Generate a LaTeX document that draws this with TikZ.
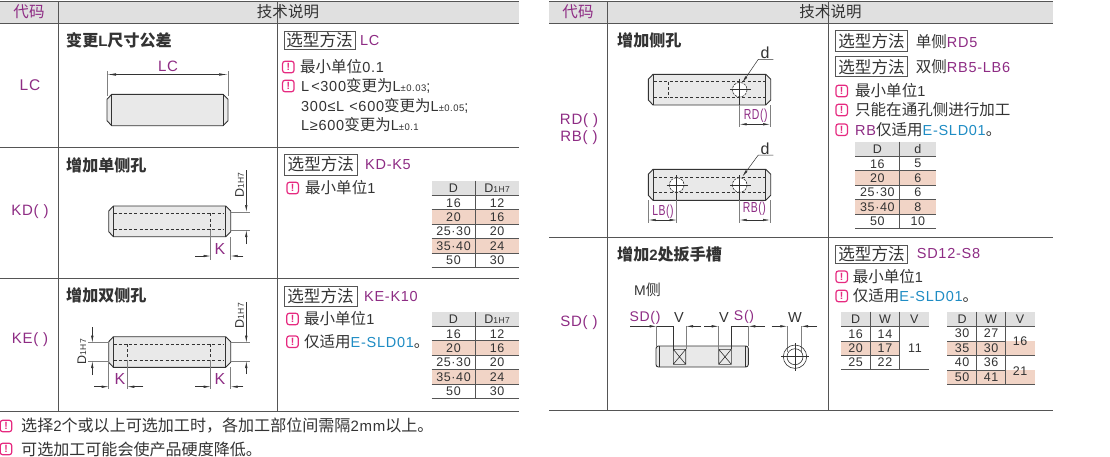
\documentclass[tikz,border=0pt]{standalone}
\usepackage{fontspec}
\usetikzlibrary{arrows.meta}
\setmainfont{Liberation Sans}[LetterSpace=5]
\newfontfamily\cjk{Noto Sans CJK SC}[Scale=1.07]
\newcommand\zh[1]{{\cjk #1}}
\newcommand\fs[1]{\fontsize{#1}{#1}\selectfont}
\definecolor{pur}{HTML}{8E2C84}
\definecolor{blu}{HTML}{1E8CC4}
\definecolor{ink}{HTML}{333333}
\definecolor{rule}{HTML}{555555}
\definecolor{hdr}{HTML}{E0E0E0}
\definecolor{pnk}{HTML}{F1D4C6}
\definecolor{warnc}{HTML}{E62A80}
\definecolor{body}{HTML}{E9E9E9}
\newcounter{nn}
\newcommand\T[4][]{\stepcounter{nn}\node[lbl,#1] (n\thenn) at (#2,#3) {#4};}
\newcommand\W[2]{\stepcounter{nn}\node[warnicon] (n\thenn) at (#1,#2) {!};}
\newcommand\B[4]{\stepcounter{nn}\node[selbox,minimum width=#2-#1,minimum height=#4-#3] (n\thenn) at ({(#1+#2)/2},{(#3+#4)/2}) {\zh{选型方法}};}
\newcommand\smallsub[1]{{\fs{9.5}#1}}
\newcommand\dsub{D{\fs{8.5}1H7}}
% pin outline: x0 x1 y0 y1
\newcommand\pin[4]{%
  \draw[pinline,fill=body] ({#1+4.7},#3) -- ({#2-5},#3) -- (#2,{#3+5}) -- (#2,{#4-5}) -- ({#2-5},#4) -- ({#1+4.7},#4) -- (#1,{#4-5}) -- (#1,{#3+5}) -- cycle;
  \draw[pinline] ({#1+4.7},#3) -- ({#1+4.7},#4) ({#2-5},#3) -- ({#2-5},#4);}
% table D / second column
\newcommand\DTable[7]{% prefix x0 xm x1 ytop head rows
  \fill[hdr] (#2,#5) rectangle (#4,{#5+14.6});
  \foreach \a/\b [count=\i] in {#7}{
    \pgfmathsetmacro\yt{#5+14.6+(\i-1)*14.4}
    \pgfmathsetmacro\yb{\yt+14.4}
    \pgfmathsetmacro\ym{\yt+7.4}
    \ifodd\i\else\fill[pnk] (#2,\yt) rectangle (#4,\yb);\fi
    \node[cellt] (#1a\i) at ({(#2+#3)/2},\ym) {\a};
    \node[cellt] (#1b\i) at ({(#3+#4)/2},\ym) {\b};
    \draw[tline] (#2,\yb) -- (#4,\yb);
  }
  \draw[tline] (#2,{#5+14.6}) -- (#4,{#5+14.6});
  \draw[tline] (#3,#5) -- (#3,{#5+14.6+5*14.4});
  \node[cellt] (#1h1) at ({(#2+#3)/2},{#5+7.5}) {D};
  \node[cellt] (#1h2) at ({(#3+#4)/2},{#5+7.5}) {#6};
}
\newcommand\Dm[2]{\draw[dimarr] #1 -- #2;}
\tikzset{
  x=1pt,y=-1pt,
  lbl/.style={inner sep=0pt,anchor=west,text=ink,font=\fs{14.5}},
  ctr/.style={anchor=center},
  pr/.style={text=pur},
  warnicon/.style={draw=warnc,line width=1.2pt,rounded corners=2.5pt,minimum size=11.5pt,inner sep=0pt,text=warnc,font=\fs{10.5}\bfseries},
  selbox/.style={draw=rule,line width=0.8pt,inner sep=0pt,text=ink,font=\fs{15.5},anchor=center},
  frame/.style={draw=rule,line width=0.9pt},
  tline/.style={draw=rule,line width=0.7pt},
  cellt/.style={inner sep=0pt,text=ink,font=\fs{12.5},anchor=center},
  pinline/.style={draw=ink,line width=0.9pt},
  dashl/.style={draw=ink,line width=0.6pt,dash pattern=on 3pt off 2.2pt},
  ext/.style={draw=gray,line width=0.6pt},
  dimarr/.style={draw=ink,line width=0.5pt,-{Latex[length=7pt,width=2.4pt]}},
  dimline/.style={draw=ink,line width=0.5pt},
  center/.style={draw=ink,line width=0.45pt},
}
\begin{document}
\begin{tikzpicture}
\useasboundingbox (0,0) rectangle (1110,456);
\fill[white] (0,0) rectangle (1110,456);
% ---------- frames ----------
\fill[hdr] (0,1.5) rectangle (519,23);
\fill[hdr] (549,1.5) rectangle (1053,23);
\draw[frame] (0,1.5) -- (519,1.5) (0,23) -- (519,23) (0,147) -- (519,147) (0,278) -- (519,278) (0,411) -- (519,411);
\draw[frame] (58.5,1.5) -- (58.5,411) (277.5,1.5) -- (277.5,411);
\draw[frame] (549,1.5) -- (1053,1.5) (549,23) -- (1053,23) (549,237) -- (1053,237) (549,410.7) -- (1053,410.7);
\draw[frame] (607.5,1.5) -- (607.5,410.7) (828,1.5) -- (828,410.7);
% ---------- header text ----------
\T[ctr,pr]{29}{12}{\zh{代码}}
\T[ctr]{288}{12}{\zh{技术说明}}
\T[ctr,pr]{578}{12}{\zh{代码}}
\T[ctr]{830.5}{12}{\zh{技术说明}}
% ---------- codes ----------
\T[ctr,pr,font=\fs{15.5}]{30}{85}{LC}
\T[ctr,pr,font=\fs{15}]{30}{212}{KD( )}
\T[ctr,pr,font=\fs{15}]{30}{340}{KE( )}
\T[ctr,pr,font=\fs{15}]{579}{121}{RD( )}
\T[ctr,pr,font=\fs{15}]{579}{138}{RB( )}
\T[ctr,pr,font=\fs{15}]{579}{323}{SD( )}
% ---------- titles ----------
\T[font=\fs{15}\bfseries]{66}{40}{\zh{变更}L\zh{尺寸公差}}
\T[font=\fs{15}\bfseries]{66}{165}{\zh{增加单侧孔}}
\T[font=\fs{15}\bfseries]{66}{295}{\zh{增加双侧孔}}
\T[font=\fs{15}\bfseries]{617}{40}{\zh{增加侧孔}}
\T[font=\fs{15}\bfseries]{617}{254}{\zh{增加}2\zh{处扳手槽}}
% ---------- LC drawing ----------
\pin{107}{228}{94.3}{125.7}
\draw[ext] (107,71) -- (107,96) (228,71) -- (228,96);
\draw[dimline,{Latex[length=9pt,width=2.4pt]}-{Latex[length=9pt,width=2.4pt]}] (107,74.5) -- (228,74.5);
\T[ctr,pr,font=\fs{15}]{168}{66}{LC}
% ---------- KD drawing ----------
\pin{108.7}{230.7}{206}{236.7}
\draw[dashl] (113.5,213.3) -- (224,213.3) (113.5,229.3) -- (224,229.3) (210.7,213.3) -- (210.7,229.3);
\draw[ext] (230.7,212) -- (250,212) (230.7,230) -- (250,230) (210.7,230) -- (210.7,260) (230.7,237) -- (230.7,260);
\coordinate (kdA) at (246.3,170); \coordinate (kdB) at (246.3,212);
\coordinate (kdC) at (246.3,244); \coordinate (kdD) at (246.3,230);
\Dm{(kdA)}{(kdB)} \Dm{(kdC)}{(kdD)}
\T[ctr,rotate=90,font=\fs{12.5}]{239.5}{185}{\dsub}
\T[ctr,pr,font=\fs{16}]{220}{248.7}{K}
\coordinate (kdE) at (195,256); \coordinate (kdF) at (210.7,256);
\coordinate (kdG) at (243.3,256); \coordinate (kdH) at (230.7,256);
\Dm{(kdE)}{(kdF)} \Dm{(kdG)}{(kdH)}
% ---------- KE drawing ----------
\pin{108.7}{230.7}{336.7}{367.3}
\draw[dashl] (113.5,344) -- (224,344) (113.5,360) -- (224,360) (127.3,344) -- (127.3,360) (210.7,344) -- (210.7,360);
\draw[ext] (230.7,342.7) -- (250,342.7) (230.7,361) -- (250,361) (88,342.7) -- (109,342.7) (88,361) -- (109,361);
\draw[ext] (108.7,361) -- (108.7,389) (127.3,360) -- (127.3,389) (210.7,360) -- (210.7,389) (230.7,367) -- (230.7,389);
\coordinate (k1) at (246.3,302); \coordinate (k2) at (246.3,342.7); \coordinate (k3) at (246.3,374); \coordinate (k4) at (246.3,361);
\Dm{(k1)}{(k2)} \Dm{(k3)}{(k4)}
\coordinate (k5) at (92.3,327); \coordinate (k6) at (92.3,342.7); \coordinate (k7) at (92.3,375); \coordinate (k8) at (92.3,361);
\Dm{(k5)}{(k6)} \Dm{(k7)}{(k8)}
\T[ctr,rotate=90,font=\fs{12.5}]{239.5}{315.7}{\dsub}
\T[ctr,rotate=90,font=\fs{12.5}]{81.7}{351.7}{\dsub}
\T[ctr,pr,font=\fs{16}]{120}{378.7}{K}
\T[ctr,pr,font=\fs{16}]{220}{378.7}{K}
\coordinate (k9) at (94.3,386.7); \coordinate (k10) at (108.7,386.7); \coordinate (k11) at (143.3,386.7); \coordinate (k12) at (127.3,386.7);
\coordinate (k13) at (195,386.7); \coordinate (k14) at (210.7,386.7); \coordinate (k15) at (243.3,386.7); \coordinate (k16) at (230.7,386.7);
\Dm{(k9)}{(k10)} \Dm{(k11)}{(k12)} \Dm{(k13)}{(k14)} \Dm{(k15)}{(k16)}
% ---------- LC text ----------
\B{284}{355}{31.7}{49.3}
\T[pr]{360}{40.5}{LC}
\W{288.3}{67}\T{300}{67}{\zh{最小单位}0.1}
\W{288.3}{86}\T{301}{86}{L\hspace{2pt}<300\zh{变更为}L\smallsub{±0.03};}
\T{301}{105.5}{300≤L\hspace{5pt}<600\zh{变更为}L\smallsub{±0.05};}
\T{301}{125}{L≥600\zh{变更为}L\smallsub{±0.1}}
% ---------- KD text ----------
\B{284}{357.7}{154}{175}
\T[pr]{365}{165}{KD-K5}
\W{292.7}{188}\T{305}{188}{\zh{最小单位}1}
\DTable{ta}{431.7}{475.3}{519}{180.7}{\dsub}{16/12,20/16,25·30/20,35·40/24,50/30}
% ---------- KE text ----------
\B{284}{357}{286.7}{306}
\T[pr]{364}{296.5}{KE-K10}
\W{292.5}{319}\T{304}{319}{\zh{最小单位}1}
\W{292.5}{341.7}\T{304}{341.7}{\zh{仅适用}{\color{blu}E-SLD01}\zh{。}}
\DTable{tb}{431.7}{475.3}{519}{311.7}{\dsub}{16/12,20/16,25·30/20,35·40/24,50/30}
% ---------- footer ----------
\W{6}{426}\T[font=\fs{15}]{21}{426}{\zh{选择}2\zh{个或以上可选加工时，各加工部位间需隔}2mm\zh{以上。}}
\W{6}{449}\T[font=\fs{15}]{21}{449}{\zh{可选加工可能会使产品硬度降低。}}
% ---------- RD drawing ----------
\pin{648.3}{770.7}{74.3}{105}
\draw[dashl] (654,81.7) -- (765,81.7) (654,97.7) -- (765,97.7) (668.7,81.7) -- (668.7,97.7);
\draw[fill=white,draw=ink,line width=0.6pt,dash pattern=on 2.5pt off 1pt] (739.7,89.7) circle[radius=7.3];
\draw[center] (730,89.7) -- (750.7,89.7) (739.7,78.7) -- (739.7,105);
\draw[ext] (739.7,105) -- (739.7,127) (770,105) -- (770,127);
\coordinate (rda) at (755,124.3); \coordinate (rdb) at (739.7,124.3); \coordinate (rdc) at (770,124.3);
\Dm{(rda)}{(rdb)} \Dm{(rda)}{(rdc)}
\T[ctr,pr,font=\fs{14.5},xscale=.72]{755.7}{115.7}{RD()}
\T[ctr,font=\fs{16}]{765}{52.7}{d}
\coordinate (rde) at (773.3,59.3); \coordinate (rdf) at (758.3,59.3); \coordinate (rdg) at (742.3,82.7);
\draw[dimarr] (rde) -- (rdf) -- (rdg);
% ---------- RB drawing ----------
\pin{648.3}{770.7}{169.3}{200.3}
\draw[dashl] (654,177) -- (765,177) (654,192.3) -- (765,192.3);
\draw[fill=white,draw=ink,line width=0.6pt,dash pattern=on 2.5pt off 1pt] (676.7,185) circle[radius=7.3];
\draw[fill=white,draw=ink,line width=0.6pt,dash pattern=on 2.5pt off 1pt] (739.7,185) circle[radius=7.3];
\draw[center] (666.7,185) -- (687.7,185) (676.7,175) -- (676.7,200) (730,185) -- (750.7,185) (739.7,175) -- (739.7,200);
\draw[ext] (648.7,200) -- (648.7,223) (676.7,200) -- (676.7,223) (739.7,200) -- (739.7,223) (770,200) -- (770,223);
\coordinate (rba) at (663,220); \coordinate (rbb) at (648.7,220); \coordinate (rbc) at (676.7,220);
\coordinate (rbd) at (755,220); \coordinate (rbe) at (739.7,220); \coordinate (rbf) at (770,220);
\Dm{(rba)}{(rbb)} \Dm{(rba)}{(rbc)} \Dm{(rbd)}{(rbe)} \Dm{(rbd)}{(rbf)}
\T[ctr,pr,font=\fs{14.5},xscale=.72]{663}{211.7}{LB()}
\T[ctr,pr,font=\fs{14.5},xscale=.72]{754.3}{208.3}{RB()}
\T[ctr,font=\fs{16}]{765}{148.3}{d}
\coordinate (rbg) at (773.3,155); \coordinate (rbh) at (758.3,155); \coordinate (rbi) at (742.3,176.7);
\draw[dimarr] (rbg) -- (rbh) -- (rbi);
% ---------- RD text ----------
\B{835.3}{907.7}{30.7}{51}
\T{915.7}{42}{\zh{单侧}{\color{pur}RD5}}
\B{835.3}{907.7}{56.7}{76.7}
\T{915.7}{66.5}{\zh{双侧}{\color{pur}RB5-LB6}}
\W{841.7}{91}\T{855}{91}{\zh{最小单位}1}
\W{841.7}{110}\T{855}{110}{\zh{只能在通孔侧进行加工}}
\W{841.7}{129.7}\T{855}{129.7}{{\color{pur}RB}\zh{仅适用}{\color{blu}E-SLD01}\zh{。}}
\DTable{tc}{855}{899.7}{936}{141.7}{d}{16/5,20/6,25·30/6,35·40/8,50/10}
% ---------- SD drawing ----------
\T[font=\fs{14}]{634}{290}{M\zh{侧}}
\draw[pinline,fill=body,rounded corners=2.5pt] (656,346) rectangle (748.3,367);
\draw[pinline,line width=0.7pt] (659.3,346) -- (659.3,367) (745.7,346) -- (745.7,367);
\draw[pinline,line width=0.6pt] (673.3,349.3) rectangle (685.7,364.3) (673.3,349.3) -- (685.7,364.3) (685.7,349.3) -- (673.3,364.3);
\draw[pinline,line width=0.6pt] (718.7,349.3) rectangle (731.3,364.3) (718.7,349.3) -- (731.3,364.3) (731.3,349.3) -- (718.7,364.3);
\draw[ext] (656.7,326.3) -- (656.7,346) (686,326.3) -- (686,349) (718.7,326.3) -- (718.7,349) (748.3,326.3) -- (748.3,346) (787.3,326.3) -- (787.3,352) (801,326.3) -- (801,352);
\draw[dimline,line width=0.7pt] (673.7,326.3) -- (673.7,349) (731,326.3) -- (731,349);
\draw[dimline] (656.7,326.3) -- (673.7,326.3) (731,326.3) -- (748.3,326.3);
\coordinate (s1) at (630,326.3); \coordinate (s2) at (656.7,326.3); \coordinate (s3) at (701,326.3); \coordinate (s4) at (686,326.3);
\coordinate (s5) at (704,326.3); \coordinate (s6) at (718.7,326.3); \coordinate (s7) at (765,326.3); \coordinate (s8) at (748.3,326.3);
\coordinate (s9) at (771.7,326.3); \coordinate (s10) at (787.3,326.3); \coordinate (s11) at (817,326.3); \coordinate (s12) at (801,326.3);
\Dm{(s1)}{(s2)} \Dm{(s3)}{(s4)} \Dm{(s5)}{(s6)} \Dm{(s7)}{(s8)} \Dm{(s9)}{(s10)} \Dm{(s11)}{(s12)}
\T[ctr,pr,font=\fs{14}]{645}{317.7}{SD()}
\T[ctr,font=\fs{14.5}]{679}{317.7}{V}
\T[ctr,font=\fs{14.5}]{724}{317.7}{V}
\T[ctr,pr,font=\fs{14}]{744}{317}{S()}
\T[ctr,font=\fs{14.5}]{795}{317.7}{W}
\draw[pinline,line width=0.6pt] (795,356.7) circle[radius=11.7] (795,356.7) circle[radius=8];
\draw[center] (781,356.7) -- (809,356.7) (795,343) -- (795,371);
% ---------- SD text ----------
\B{835.3}{907.7}{245}{263.3}
\T[pr]{916.7}{254}{SD12-S8}
\W{841.7}{276.7}\T{852.7}{276.7}{\zh{最小单位}1}
\W{841.7}{296}\T{852.7}{296}{\zh{仅适用}{\color{blu}E-SLD01}\zh{。}}
% SD table 1
\fill[hdr] (841,311.7) rectangle (928.7,326.3);
\fill[pnk] (841,341) rectangle (899.7,355.3);
\draw[tline] (841,326.3) -- (928.7,326.3) (841,341) -- (899.7,341) (841,355.3) -- (899.7,355.3) (841,369.7) -- (928.7,369.7);
\draw[tline] (870.3,311.7) -- (870.3,369.7) (899.7,311.7) -- (899.7,369.7);
\node[cellt] (sa1) at (855.6,319) {D};
\node[cellt] (sah) at (885,319) {W};
\node[cellt] (sa2) at (914.3,319) {V};
\foreach \a/\b/\y [count=\i] in {16/14/334.5,20/17/348.5,25/22/362.5}{
  \node[cellt] (sb\i) at (855.6,\y) {\a};
  \node[cellt] (sc\i) at (885,\y) {\b};
}
\node[cellt] (sd) at (915,348.3) {11};
% SD table 2
\fill[hdr] (947,311.7) rectangle (1034.7,326.3);
\fill[pnk] (947,341) rectangle (1034.7,355.3);
\fill[pnk] (947,370) rectangle (1034.7,384.3);
\draw[tline] (947,326.3) -- (1034.7,326.3) (947,341) -- (1005.3,341) (947,355.3) -- (1034.7,355.3) (947,370) -- (1005.3,370) (947,384.3) -- (1034.7,384.3);
\draw[tline] (976.7,311.7) -- (976.7,384.3) (1005.3,311.7) -- (1005.3,384.3);
\node[cellt] (tha) at (962,319) {D};
\node[cellt] (thb) at (991,319) {W};
\node[cellt] (thc) at (1020,319) {V};
\foreach \a/\b/\y [count=\i] in {30/27/333.5,35/30/348.5,40/36/362.5,50/41/377.5}{
  \node[cellt] (te\i) at (962,\y) {\a};
  \node[cellt] (tf\i) at (991,\y) {\b};
}
\node[cellt] (tg) at (1020,341.3) {16};
\node[cellt] (th) at (1020,370.7) {21};
\end{tikzpicture}
\end{document}
